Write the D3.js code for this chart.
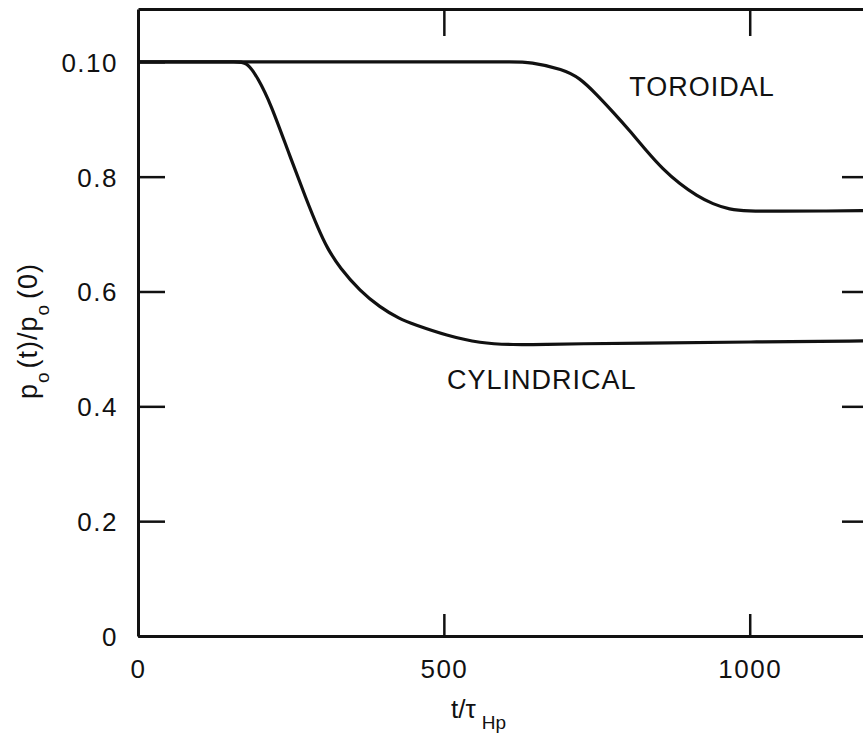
<!DOCTYPE html>
<html>
<head>
<meta charset="utf-8">
<script src="https://cdn.jsdelivr.net/npm/d3@7"></script>
<style>
  html, body { margin: 0; padding: 0; background: #fff; }
  text { font-family: "Liberation Sans", Arial, Helvetica, sans-serif; fill: #111; }
</style>
</head>
<body>
<div id="chart"></div>
<script>
// values
const yTickValues = [0, 0.2, 0.4, 0.6, 0.8, 1.0];
const yTickLabels = ["0", "0.2", "0.4", "0.6", "0.8", "0.10"];
const xTickValues = [0, 500, 1000];
const xTickLabels = ["0", "500", "1000"];

const cylT = [0, 60, 120, 160, 178, 196, 217, 245, 276, 294, 309, 330, 363, 395, 428, 450, 505, 559, 613, 668, 722, 815, 1000, 1195];
const cylV = [1.0, 1.0, 1.0, 1.0, 1.0, 0.972, 0.927, 0.845, 0.758, 0.711, 0.676, 0.641, 0.601, 0.573, 0.552, 0.543, 0.523, 0.510, 0.507, 0.508, 0.509, 0.510, 0.512, 0.514];

const torT = [0, 60, 200, 400, 560, 610, 641, 695, 722, 749, 777, 804, 831, 858, 886, 913, 940, 967, 995, 1050, 1120, 1195];
const torV = [1.0, 1.0, 1.0, 1.0, 1.0, 1.0, 1.0, 0.987, 0.972, 0.944, 0.912, 0.880, 0.845, 0.813, 0.787, 0.767, 0.752, 0.743, 0.740, 0.740, 0.740, 0.741];

const W = 863, H = 733;
const margin = { top: 9, right: -6, bottom: 97, left: 138 };
const width = W - margin.left - margin.right;
const height = H - margin.top - margin.bottom;

const svg = d3.select("#chart")
    .append("svg")
    .attr("width", W)
    .attr("height", H)
    .style("display", "block");

const g = svg.append("g")
    .attr("transform", `translate(${margin.left},${margin.top})`);

const x = d3.scaleLinear().domain([0, 1195]).range([0, width]);
const y = d3.scaleLinear().domain([0, 1.092]).range([height, 0]);

const axisStyle = sel => {
    sel.select(".domain").attr("stroke", "#111").attr("stroke-width", 3);
    sel.selectAll(".tick line").attr("stroke", "#111").attr("stroke-width", 2.5);
    sel.selectAll(".tick text")
        .style("font-size", "26px")
        .style("letter-spacing", "1.5px")
        .attr("fill", "#111");
};

// left axis, ticks pointing inward
g.append("g")
    .call(d3.axisLeft(y)
        .tickValues(yTickValues)
        .tickFormat((d, i) => yTickLabels[i])
        .tickSizeInner(-27)
        .tickSizeOuter(0)
        .tickPadding(20))
    .call(axisStyle)
    .call(s => s.selectAll(".tick text").attr("dy", "0.36em"));

// right axis (frame edge is just off the page)
g.append("g")
    .attr("transform", `translate(${width},0)`)
    .call(d3.axisRight(y)
        .tickValues([0.2, 0.4, 0.6, 0.8])
        .tickFormat("")
        .tickSizeInner(-27)
        .tickSizeOuter(0))
    .call(axisStyle);

// bottom axis
g.append("g")
    .attr("transform", `translate(0,${height})`)
    .call(d3.axisBottom(x)
        .tickValues(xTickValues)
        .tickFormat((d, i) => xTickLabels[i])
        .tickSizeInner(-22)
        .tickSizeOuter(0)
        .tickPadding(24))
    .call(axisStyle)
    .call(s => s.selectAll(".tick line").filter(d => d === 0).remove());

// top axis
g.append("g")
    .call(d3.axisTop(x)
        .tickValues([500, 1000])
        .tickFormat("")
        .tickSizeInner(-27)
        .tickSizeOuter(0))
    .call(axisStyle);

// curves
g.append("clipPath").attr("id", "clip")
    .append("rect").attr("width", width).attr("height", height);

const line = d3.line()
    .x(d => x(d[0]))
    .y(d => y(d[1]))
    .curve(d3.curveBasis);

const series = [
    d3.zip(cylT, cylV),
    d3.zip(torT, torV)
];

g.append("g")
    .attr("clip-path", "url(#clip)")
    .selectAll("path")
    .data(series)
    .enter()
    .append("path")
    .attr("d", line)
    .attr("fill", "none")
    .attr("stroke", "#111")
    .attr("stroke-width", 3.2)
    .attr("stroke-linejoin", "round");

// curve labels
g.append("text")
    .attr("x", x(803))
    .attr("y", y(0.94))
    .style("font-size", "27px")
    .style("letter-spacing", "1px")
    .text("TOROIDAL");

g.append("text")
    .attr("x", x(505))
    .attr("y", y(0.431))
    .style("font-size", "27px")
    .style("letter-spacing", "1px")
    .text("CYLINDRICAL");

// x axis title
const xt = svg.append("text")
    .attr("x", 451)
    .attr("y", 718)
    .style("font-size", "26px");
xt.append("tspan").text("t/τ");
xt.append("tspan")
    .attr("dx", 6)
    .attr("dy", 11)
    .style("font-size", "19px")
    .text("Hp");

// y axis title
const yt = svg.append("text")
    .attr("transform", "translate(37,331) rotate(-90)")
    .attr("text-anchor", "middle")
    .style("font-size", "27px")
    .style("letter-spacing", "1px");
yt.append("tspan").text("p");
yt.append("tspan").attr("dy", 12).style("font-size", "19px").text("o");
yt.append("tspan").attr("dy", -12).attr("dx", 3).text("(t)/p");
yt.append("tspan").attr("dy", 12).style("font-size", "19px").text("o");
yt.append("tspan").attr("dy", -12).attr("dx", 5).text("(0)");
</script>
</body>
</html>
